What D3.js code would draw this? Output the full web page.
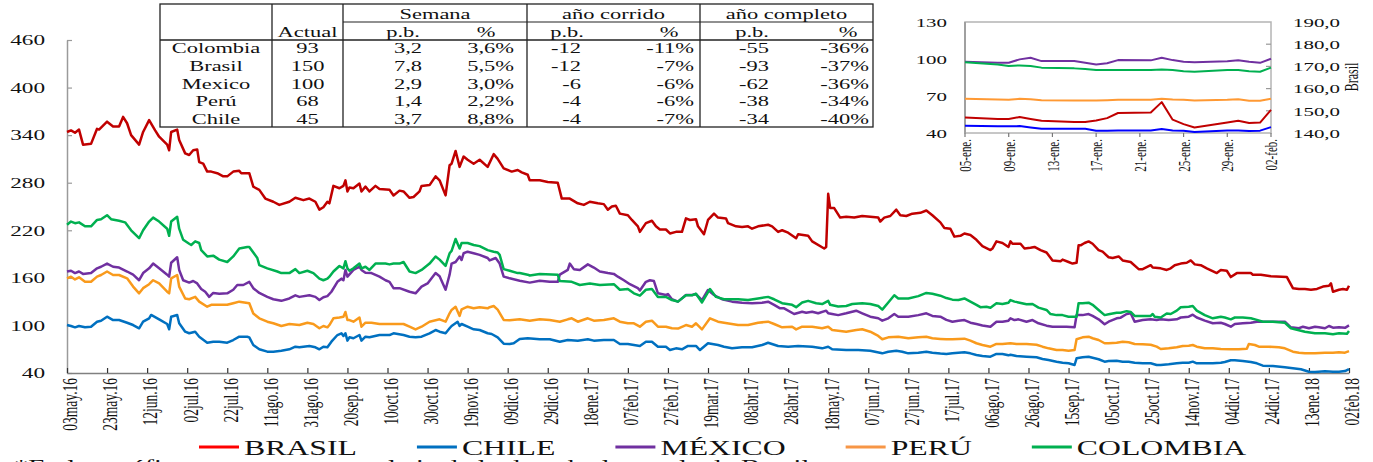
<!DOCTYPE html>
<html><head><meta charset="utf-8">
<script src="https://cdn.jsdelivr.net/npm/d3@7"></script>
<style>
html,body{margin:0;padding:0;background:#fff;overflow:hidden}
svg{display:block;font-family:"Liberation Serif","Times New Roman",serif}
</style></head><body>
<svg id="chart" width="1373" height="462"></svg>
<script>
// ---------------- DATA ----------------
const START = [2016, 4, 3]; // day 0 = 03 may 2016
const xTickLabels = ["03may.16","23may.16","12jun.16","02jul.16","22jul.16","11ago.16","31ago.16","20sep.16","10oct.16","30oct.16","19nov.16","09dic.16","29dic.16","18ene.17","07feb.17","27feb.17","19mar.17","08abr.17","28abr.17","18may.17","07jun.17","27jun.17","17jul.17","06ago.17","26ago.17","15sep.17","05oct.17","25oct.17","14nov.17","04dic.17","24dic.17","13ene.18","02feb.18"];
const yTicks = [40,100,160,220,280,340,400,460];
const seriesNames = ["BRASIL","CHILE","MÉXICO","PERÚ","COLOMBIA"];

// [days since 03may.16, value]
const brasil = [[0,344],[2,346],[4,343],[6,347],[8,328],[12,329],[15,348],[16,347],[20,357],[23,351],[26,351],[28,363],[30,355],[32,340],[36,328],[38,344],[41,359],[44,346],[46,338],[50,328],[51,321],[52,344],[55,347],[56,334],[59,317],[61,315],[63,321],[65,322],[66,306],[68,304],[70,294],[72,294],[75,292],[78,288],[80,288],[83,294],[86,295],[87,292],[91,292],[93,275],[96,271],[99,260],[103,256],[106,252],[111,256],[114,261],[118,258],[121,260],[124,256],[126,246],[128,249],[130,256],[131,254],[133,276],[136,273],[138,276],[139,283],[140,269],[141,274],[143,273],[146,279],[147,269],[149,275],[151,269],[154,276],[156,272],[161,271],[163,264],[166,270],[168,269],[171,261],[173,262],[176,269],[177,276],[181,277],[184,288],[186,283],[189,264],[191,302],[192,304],[194,320],[196,300],[198,313],[200,309],[203,304],[206,309],[210,300],[213,316],[215,310],[218,298],[222,294],[225,296],[227,293],[230,290],[231,283],[236,283],[240,281],[245,280],[247,260],[251,260],[255,254],[258,252],[261,256],[265,254],[268,253],[270,246],[272,250],[274,251],[276,241],[280,239],[282,233],[285,225],[286,218],[289,229],[292,232],[294,225],[296,221],[299,221],[301,216],[304,218],[307,218],[309,235],[311,233],[314,234],[315,225],[318,215],[320,233],[323,241],[325,236],[329,235],[330,229],[334,225],[337,224],[340,225],[342,222],[345,225],[350,227],[352,225],[355,218],[357,220],[360,217],[364,210],[365,215],[370,213],[372,206],[378,197],[379,199],[380,266],[381,248],[383,248],[386,236],[389,237],[393,236],[397,238],[401,237],[405,236],[406,231],[408,236],[411,238],[414,246],[416,239],[419,238],[422,241],[426,242],[429,245],[432,239],[436,230],[438,223],[441,222],[443,212],[446,213],[448,216],[451,214],[454,208],[457,200],[461,195],[462,197],[464,206],[467,204],[470,199],[471,206],[472,203],[476,203],[478,197],[481,198],[483,199],[486,195],[489,192],[492,182],[496,181],[497,183],[500,180],[502,178],[504,179],[505,201],[506,201],[508,204],[510,206],[512,203],[515,195],[517,193],[520,186],[522,185],[525,187],[527,182],[531,180],[535,171],[537,171],[541,176],[542,173],[546,172],[549,170],[551,172],[553,176],[556,178],[559,179],[561,182],[563,177],[566,176],[569,172],[574,166],[576,170],[579,169],[581,161],[584,166],[587,166],[591,166],[592,164],[596,164],[601,162],[609,161],[612,147],[615,146],[618,146],[621,145],[624,146],[627,149],[630,150],[631,153],[632,142.5],[635,145],[637,146],[639,145],[640,150]];
const chile = [[0,100.5],[2,99.3],[4,97.6],[6,99.3],[9,97.6],[12,98.4],[15,104.7],[17,106],[20,111],[23,106.8],[26,106.8],[30,103.4],[33,100.5],[36,96.4],[38,104.7],[41,109],[42,113.2],[46,107.7],[50,101.8],[51,95.1],[52,111],[55,113.2],[56,102.7],[59,92.1],[61,90.1],[64,92.1],[66,85.8],[70,78.2],[73,79.5],[76,79.5],[80,78.2],[83,81.6],[86,85.8],[90,85.8],[91,85],[93,75.3],[96,69.9],[100,66.9],[103,66.9],[107,68.1],[111,69.9],[114,73.2],[116,72.4],[121,74.1],[124,72.4],[126,69.9],[128,73.2],[130,72.4],[132,79.5],[135,87.9],[137,90.1],[138,86.7],[139,90.1],[140,80.8],[141,85],[143,83.8],[146,87.9],[147,80.8],[149,85.8],[151,85],[156,87.9],[161,87.9],[163,90.1],[168,87.9],[171,85.8],[174,85],[177,85.8],[181,90.1],[184,94.2],[186,92.1],[189,90.1],[191,96.4],[192,99.3],[195,104.7],[196,99.3],[197,101.8],[200,98.4],[203,95.1],[206,94.2],[210,90.1],[212,89.2],[215,85],[218,77],[221,76.6],[223,77.5],[226,83],[230,83.8],[236,82.5],[241,82.5],[246,79.5],[250,81.6],[255,80.8],[260,82.5],[263,80.8],[268,81.6],[273,81.6],[276,76.6],[280,76.6],[283,75.3],[286,74.1],[289,79.5],[292,79.5],[295,73.2],[299,73.2],[301,69],[304,71.1],[307,69.9],[310,74.1],[314,74.1],[316,69],[320,77.5],[325,75.3],[328,73.2],[332,71.1],[337,72.4],[342,72.4],[347,75.3],[350,78.2],[355,74.1],[360,73.2],[365,74.1],[372,73.2],[377,71.1],[380,73.2],[382,69.9],[389,69],[395,69],[401,68.1],[407,64.8],[410,66.9],[414,68.1],[417,66.9],[420,64.8],[425,65.6],[429,66.9],[432,65.6],[436,64.5],[439,64],[442,64.8],[445,65.6],[448,66.1],[451,64.8],[454,62.7],[457,61.4],[461,60.6],[464,64],[467,64],[470,62.3],[471,63.1],[474,61.4],[479,60.6],[484,59.8],[487,57.7],[490,56.4],[494,54.3],[497,53],[500,52.2],[503,50.1],[504,58.5],[507,59.8],[510,60.6],[512,59.3],[515,57.3],[518,54.3],[520,55.1],[524,55.5],[527,54.3],[530,54.3],[533,53],[537,52.2],[541,52.2],[544,50.1],[546,50.1],[550,51],[554,52.2],[557,53],[560,53],[562,54.3],[564,52.2],[568,52.2],[572,52.2],[576,53],[578,53.9],[581,56],[583,56],[587,55.1],[591,53.9],[594,52.2],[597,49.2],[602,48.8],[608,47.2],[612,45.9],[616,44.7],[620,41.6],[623,41.3],[628,42.1],[632,41.6],[635,41.6],[638,42.5],[640,45]];
const mexico = [[0,168],[2,169],[4,166],[6,168],[8,165],[12,166],[15,172],[17,174],[20,178],[23,174],[26,173],[30,168],[33,164],[36,157],[38,166],[41,172],[43,178],[46,172],[50,164],[51,161.5],[52,179],[55,186],[56,170],[58,157],[61,154],[63,156],[65,153],[67,146],[69,142.5],[71,136],[73,141],[76,140],[80,140.5],[83,145],[85,151],[88,151],[91,155],[93,147],[96,141],[100,136],[103,133],[107,131],[111,134],[114,138],[116,136],[121,138],[124,136],[126,132],[128,135.5],[130,137],[132,142.5],[135,155],[137,159],[138,157],[139,170],[140,161.5],[143,170],[146,174],[147,170],[149,166.5],[152,166],[156,161.5],[159,157],[161,155],[163,147],[166,147],[171,142.5],[174,140.5],[177,149],[180,153],[184,166],[186,162],[189,145],[191,164],[192,178],[194,180],[196,187],[197,182.5],[198,191],[200,193],[203,191],[206,189],[210,185],[211,182],[214,185],[216,178],[218,161.5],[221,159.4],[226,156.4],[231,154],[236,156.4],[241,155],[245,155],[246,164],[250,170],[251,178],[253,171],[256,170],[260,177],[263,173],[266,168],[270,166],[273,165],[275,161.5],[278,157],[281,152],[285,147],[286,144],[289,155],[291,157],[293,156],[295,140.5],[299,138.4],[300,139.6],[302,133],[305,130],[309,138.4],[312,138.4],[314,139.6],[317,132],[320,144.7],[323,138.4],[327,133],[332,130],[337,128.7],[342,128],[347,128.7],[350,130],[353,126],[356,121.6],[358,121.6],[363,114.4],[367,117.3],[369,116],[372,117.3],[375,115.3],[379,118.6],[380,115.3],[382,114.4],[385,113],[389,115.3],[394,118.6],[397,115.3],[401,111],[405,109],[407,106],[410,109],[413,114.4],[415,111],[420,111],[425,113],[429,115.3],[432,112],[436,111],[439,107],[442,104.7],[445,106],[448,106.8],[451,103.4],[454,101.8],[457,100],[461,98.4],[464,104.7],[467,104.7],[470,106],[471,109],[473,106.8],[475,107.7],[479,104.7],[482,106.8],[485,102.7],[489,99.7],[492,98.4],[499,98.4],[503,97.6],[504,113],[507,113],[510,114.4],[512,112],[515,107.7],[518,101.4],[520,104.7],[524,109],[526,109.8],[529,114.4],[531,115.3],[533,104.7],[537,106.8],[541,107.7],[544,106.8],[546,107.7],[550,106.8],[554,107.7],[556,110],[560,111],[562,113.6],[564,110],[568,106],[572,102.7],[576,103.4],[578,101.8],[581,98.4],[583,101.8],[587,102.7],[591,103.4],[594,104.7],[602,104.7],[608,104.7],[611,97.6],[615,96.4],[617,98.4],[620,96.4],[623,98.4],[625,97.6],[628,96.4],[630,99.3],[632,97.1],[635,97.6],[638,97],[640,100]];
const peru = [[0,159.4],[2,161.5],[4,158],[6,160.7],[9,155],[12,155],[15,161.5],[17,163.6],[20,168],[23,163.6],[26,163.6],[30,159.4],[33,149],[36,140.5],[38,147],[41,152],[43,157],[46,153],[50,142.5],[51,140.5],[52,159.4],[55,163.6],[56,149],[59,134],[61,133],[64,136],[66,130],[70,123.6],[72,126],[76,126],[80,126],[83,128],[86,130],[91,128],[93,115],[96,109],[100,104.7],[103,102.7],[107,99.3],[111,101.8],[116,100.5],[120,103.4],[123,101.8],[126,96.4],[128,99.3],[130,97.6],[131,100.5],[133,109],[136,110],[138,111],[139,117],[140,106.8],[141,106.8],[143,104.7],[146,110],[147,98.4],[149,103.4],[152,103.4],[156,101.8],[163,101.8],[168,101.8],[171,98.4],[174,95],[177,98.4],[181,104.7],[186,107.7],[189,104.7],[191,115.3],[192,119.5],[194,123.6],[196,112],[197,120.3],[200,123.6],[203,121.6],[206,123],[210,121.6],[211,123],[213,124.5],[215,120],[218,107],[221,106.5],[226,107.7],[231,106],[236,107.7],[241,106.8],[246,104.7],[250,107.7],[252,109],[255,104.7],[260,109],[263,106],[268,106.8],[273,109],[276,104.7],[280,102.7],[283,102.7],[286,98.4],[289,104.7],[292,106],[295,98.4],[299,98.4],[302,96.4],[305,96],[309,100.5],[312,98.4],[314,102.7],[317,95],[321,109],[325,104.7],[328,103.4],[335,100.5],[340,100.5],[345,103.4],[350,104.7],[353,101.8],[357,97.6],[362,98.4],[364,95],[367,98.4],[372,98.4],[377,96.4],[380,98.4],[382,94.2],[389,92.1],[394,94.2],[397,95.1],[401,92.1],[405,86.7],[407,82.5],[410,85],[415,85.8],[420,83.8],[425,85],[429,85.8],[432,83.8],[436,83],[439,82.5],[442,82.5],[445,82.9],[448,83.3],[451,80.8],[454,77.5],[457,75.3],[461,73.2],[464,76.6],[467,76.6],[471,77.5],[474,76.6],[479,76.6],[484,75.7],[487,73.2],[490,71.1],[494,69],[497,69],[500,68.1],[503,69],[504,82.5],[507,85],[510,85.8],[512,83.8],[515,81.6],[518,77.5],[520,77.5],[524,78.2],[527,79.5],[530,78.7],[533,76.6],[537,76.2],[541,75.7],[544,73.2],[546,70.3],[550,71.1],[554,72.4],[557,74.1],[560,74.5],[562,75.3],[564,73.2],[568,71.1],[572,71.1],[576,70.3],[581,69.9],[585,69.9],[589,70.6],[590,76.6],[593,75.3],[595,73.2],[600,73.2],[605,72.4],[608,71.1],[612,66.9],[615,65.6],[618,64.8],[623,64.8],[628,65.6],[632,65.6],[635,66.1],[638,65.6],[640,67.5]];
const colombia = [[0,227],[2,231],[4,229],[6,230],[9,225],[12,225],[15,233],[17,234],[20,239],[22,234],[26,232],[29,230],[32,220],[36,210],[38,220],[41,231],[43,236],[46,231],[50,222],[51,213],[52,231],[55,237],[56,222],[58,208],[61,203],[62,201.5],[64,206],[66,204],[67,195],[70,187],[73,188],[76,183],[80,180],[83,187],[86,197],[90,199],[91,199],[95,185],[96,176],[100,172],[105,168],[107,166],[111,166],[114,171],[116,166],[120,169],[123,166],[126,159],[128,157],[130,159],[131,161.5],[133,168],[136,175],[138,172],[139,181],[140,172],[141,169],[143,172],[146,178],[147,172],[149,174],[151,170],[154,178],[159,178],[161,177],[163,178],[166,178],[168,180],[171,168],[174,166],[177,170],[181,178],[184,187],[186,183],[189,175],[191,191],[192,194],[194,209],[196,197],[197,204],[200,204],[203,201.5],[206,200],[210,195],[213,193],[215,192],[216,189],[218,171],[221,169],[225,166],[226,166],[230,164],[231,163],[236,165],[245,164],[246,156],[252,155],[256,151],[261,153],[266,151],[273,152],[276,145],[280,146],[283,140.5],[286,137.5],[289,145],[292,146],[295,136],[299,136],[302,132],[305,130],[309,138],[312,138],[314,140],[317,129],[321,146],[324,136],[328,133],[335,133],[340,132],[345,134],[350,136],[353,133],[357,128],[362,126],[364,123],[367,129],[370,131],[374,128],[377,127],[380,131],[381,126],[385,124],[389,124.5],[392,127],[397,128],[401,127],[405,124.5],[407,120],[410,129],[413,138],[415,134],[420,134],[425,137],[429,141],[432,140],[436,137.5],[439,134.5],[442,132.5],[445,132],[448,134],[451,130],[454,126],[456,123],[459,123.6],[461,122.4],[464,128],[467,127],[470,128.7],[471,132],[473,130],[475,129],[479,126.6],[482,127],[485,122.4],[489,119.5],[491,114.4],[494,113],[497,113],[500,111],[504,111],[505,128],[507,128],[510,128.7],[512,126],[515,119.5],[518,113],[520,114],[524,116],[526,116],[529,118],[531,117],[533,112],[537,112],[541,112],[542,114.4],[543,111],[546,110],[549,115],[551,114.4],[554,118.6],[556,123],[560,123.6],[562,124.5],[564,118.6],[568,113],[572,109],[576,111],[578,110],[581,107.7],[583,110],[587,110],[591,109],[594,107],[597,104.7],[602,104.7],[608,103.4],[611,96.4],[615,94],[618,92],[623,90],[628,90],[632,89],[635,90],[639,89.5],[640,93]];

// table
const tableCountries = ["Colombia","Brasil","Mexico","Perú","Chile"];
const tableActual = [93,150,100,68,45];
const semanaPb = ["3,2","7,8","2,9","1,4","3,7"];
const semanaPct = ["3,6%","5,5%","3,0%","2,2%","8,8%"];
const corridoPb = ["-12","-12","-6","-4","-4"];
const corridoPct = ["-11%","-7%","-6%","-6%","-7%"];
const completoPb = ["-55","-93","-62","-38","-34"];
const completoPct = ["-36%","-37%","-36%","-34%","-40%"];
const groupHeaders = ["Semana","año corrido","año completo"];
const subHeaders = ["p.b.","%"];

// inset (last four weeks)
const insetDates = ["2018-01-05","2018-01-08","2018-01-09","2018-01-10","2018-01-11","2018-01-12","2018-01-15","2018-01-16","2018-01-17","2018-01-18","2018-01-19","2018-01-22","2018-01-23","2018-01-24","2018-01-25","2018-01-26","2018-01-29","2018-01-30","2018-01-31","2018-02-01","2018-02-02"];
const insetBrasil = [147,146.3,146.3,147.2,146.3,145.5,144.9,145,145.6,146.7,149,149.2,153.9,146,144,142.5,144.7,145.5,144.5,144.7,150.4];
const insetChile = [45.9,45.4,45.4,45.6,44.5,43.5,43.5,43.5,41.9,41.9,42.1,42.1,43.2,42.1,41.9,40.8,42.1,42.1,41.6,41.9,44.8];
const insetMexico = [97.7,96.9,96.9,99.7,101,98.3,98.3,97,95.6,96.5,99.1,98.9,101,99.1,97.7,97.3,98.1,98.9,97.7,96.9,100.2];
const insetPeru = [67.7,67.2,66.9,67.7,67.4,66.5,66.3,66.3,66.3,66.6,66.9,66.9,67.7,67.2,66.9,66.3,66.9,67.4,66.1,66.1,67.7];
const insetColombia = [97.3,95.5,94.3,94.8,94.3,93,92.4,91.8,91,91,91,91,91.4,91,90,89.7,91,91,90,89.7,93];
const insetXTickLabels = ["05-ene.","09-ene.","13-ene.","17-ene.","21-ene.","25-ene.","29-ene.","02-feb."];
const insetLeftTicks = [40,70,100,130];
const insetRightTicks = [140,150,160,170,180,190];
const footnote = "*En los gráficos se presenta en el eje de la derecha la escala de Brasil";

// ---------------- STYLE ----------------
const lineColors = {BRASIL:"#c00000",CHILE:"#0070c0","MÉXICO":"#7030a0","PERÚ":"#f99a1c",COLOMBIA:"#00b050"};
const legendColors = {BRASIL:"#ff0000",CHILE:"#0070c0","MÉXICO":"#7030a0","PERÚ":"#f79646",COLOMBIA:"#00b050"};
const insetColors = {BRASIL:"#c00000",CHILE:"#0000ff","MÉXICO":"#7030a0","PERÚ":"#ff9933",COLOMBIA:"#00b050"};
const SX = 1.55; // horizontal stretch of the original picture's text

// ---------------- DRAW ----------------
const svg = d3.select("#chart");
const DAY = 864e5;
const day0 = Date.UTC(START[0], START[1], START[2]);
const toDate = d => new Date(day0 + d * DAY);
const monthIdx = {ene:0,feb:1,mar:2,abr:3,may:4,jun:5,jul:6,ago:7,sep:8,oct:9,nov:10,dic:11};
const parseLbl = s => { const m = s.match(/^(\d\d)([a-z]+)\.(\d\d)$/); return new Date(Date.UTC(2000 + +m[3], monthIdx[m[2]], +m[1])); };
const parseInsetLbl = s => { const m = s.match(/^(\d\d)-([a-z]+)\.$/); return new Date(Date.UTC(2018, monthIdx[m[2]], +m[1])); };
const parseISO = s => { const p = s.split("-"); return new Date(Date.UTC(+p[0], +p[1]-1, +p[2])); };

function stext(g, x, y, str, opts = {}) {
  const rot = opts.rotate ? ` rotate(${opts.rotate})` : "";
  return g.append("text")
    .attr("transform", `translate(${x},${y}) scale(${opts.sx || SX},1)${rot}`)
    .attr("text-anchor", opts.anchor || "start")
    .attr("dy", opts.dy || null)
    .attr("font-size", opts.size || 15)
    .attr("fill", opts.fill || "#111")
    .text(str);
}

const x = d3.scaleUtc().domain([parseLbl(xTickLabels[0]), parseLbl(xTickLabels[xTickLabels.length-1])]).range([67, 1349]);
const y = d3.scaleLinear().domain([40, 460]).range([373, 40]);

// axes
const gy = svg.append("g").attr("transform","translate(67,0)")
  .call(d3.axisLeft(y).tickValues(yTicks).tickSizeInner(-5).tickSizeOuter(0).tickFormat(""));
gy.select(".domain").attr("stroke","#9a9a9a").attr("stroke-width",1.5);
gy.selectAll(".tick line").attr("stroke","#9a9a9a").attr("stroke-width",1.2);

const gx = svg.append("g").attr("transform","translate(0,373)")
  .call(d3.axisBottom(x).tickValues(xTickLabels.map(parseLbl)).tickSizeInner(-5).tickSizeOuter(0).tickFormat(""));
gx.select(".domain").attr("stroke","#808080").attr("stroke-width",1.5);
gx.selectAll(".tick line").attr("stroke","#333").attr("stroke-width",1.2);

const yl = svg.append("g");
yTicks.forEach(v => stext(yl, 45, y(v), v, {anchor:"end", dy:"0.35em", size:15}));
const xl = svg.append("g");
xTickLabels.forEach(s => stext(xl, x(parseLbl(s)) + 3, 378, s, {anchor:"end", dy:"0.35em", size:13.5, rotate:-90}));

// lines
const seriesData = {BRASIL:brasil, CHILE:chile, "MÉXICO":mexico, "PERÚ":peru, COLOMBIA:colombia};
const line = d3.line().x(p => x(toDate(p[0]))).y(p => y(p[1]));
["BRASIL","CHILE","PERÚ","MÉXICO","COLOMBIA"].forEach(n => {
  svg.append("path").datum(seriesData[n]).attr("d", line)
    .attr("fill","none").attr("stroke", lineColors[n]).attr("stroke-width",2.5)
    .attr("stroke-linejoin","round");
});

// footnote (cut off by the bottom edge, as in the original)
stext(svg, 14, 472.5, footnote, {size:18.5});

// legend
const lg = svg.append("g");
let lx = 199;
seriesNames.forEach(n => {
  lg.append("line").attr("x1",lx).attr("x2",lx+40).attr("y1",447).attr("y2",447)
    .attr("stroke",legendColors[n]).attr("stroke-width",3);
  const t = stext(lg, lx+45, 454.5, n, {size:20.5});
  lx += 45 + t.node().getComputedTextLength()*SX + 60;
});

// table
const tb = svg.append("g");
const T = {l:160, r:873, t:4, b:127, h1:22, h2:40};
const colX = [160,272,343,527,700,873];
tb.append("rect").attr("x",T.l).attr("y",T.t).attr("width",T.r-T.l).attr("height",T.b-T.t)
  .attr("fill","#fff").attr("stroke","#222").attr("stroke-width",1.3);
colX.slice(1,-1).forEach(cx => tb.append("line").attr("x1",cx).attr("x2",cx).attr("y1",T.t).attr("y2",T.b).attr("stroke","#222").attr("stroke-width",1.3));
tb.append("line").attr("x1",343).attr("x2",T.r).attr("y1",T.h1).attr("y2",T.h1).attr("stroke","#222").attr("stroke-width",1.1);
tb.append("line").attr("x1",T.l).attr("x2",T.r).attr("y1",T.h2).attr("y2",T.h2).attr("stroke","#222").attr("stroke-width",1.3);
groupHeaders.forEach((h,i) => stext(tb, (colX[i+2]+colX[i+3])/2, 18.5, h, {anchor:"middle", size:14.5}));
stext(tb, 307.5, 36.5, "Actual", {anchor:"middle", size:14.5});
const subX = [[403,486],[567,669],[752,848]];
subX.forEach(p => { stext(tb, p[0], 36.5, subHeaders[0], {anchor:"middle", size:14.5}); stext(tb, p[1], 36.5, subHeaders[1], {anchor:"middle", size:14.5}); });
const rowY = i => 53 + i*17.8;
const cols = [[tableActual,307.5,"middle"],[semanaPb,422,"end"],[semanaPct,514,"end"],[corridoPb,581,"end"],[corridoPct,694,"end"],[completoPb,769,"end"],[completoPct,869,"end"]];
tableCountries.forEach((c,i) => {
  stext(tb, 216, rowY(i), c, {anchor:"middle", size:14.5});
  cols.forEach(cd => stext(tb, cd[1], rowY(i), cd[0][i], {anchor:cd[2], size:14.5}));
});

// inset
const ig = svg.append("g");
const ix = d3.scaleUtc().domain([parseInsetLbl(insetXTickLabels[0]), parseInsetLbl(insetXTickLabels[insetXTickLabels.length-1])]).range([965, 1271]);
const iyL = d3.scaleLinear().domain([40,130]).range([133,22]);
const iyR = d3.scaleLinear().domain([140,190]).range([133,22]);
ig.append("rect").attr("x",965).attr("y",22).attr("width",306).attr("height",111)
  .attr("fill","#fff").attr("stroke","#b4b4b4").attr("stroke-width",1.5);
ig.append("line").attr("x1",965).attr("x2",965).attr("y1",22).attr("y2",133).attr("stroke","#a0a0a0").attr("stroke-width",2);
insetRightTicks.slice(1,-1).forEach(v => ig.append("line").attr("x1",1266).attr("x2",1271).attr("y1",iyR(v)).attr("y2",iyR(v)).attr("stroke","#999").attr("stroke-width",1.2));
insetXTickLabels.forEach(s => {
  const px = ix(parseInsetLbl(s));
  ig.append("line").attr("x1",px).attr("x2",px).attr("y1",133).attr("y2",137).attr("stroke","#777").attr("stroke-width",1.2);
  stext(ig, px, 139, s, {anchor:"end", dy:"0.35em", size:11, rotate:-90, sx:1.6});
});
insetLeftTicks.forEach(v => stext(ig, 947, iyL(v), v, {anchor:"end", dy:"0.35em", size:13.5}));
insetRightTicks.forEach(v => stext(ig, 1293, iyR(v), d3.format(".1f")(v).replace(".",","), {dy:"0.35em", size:13.5}));
stext(ig, 1352, 77, "Brasil", {anchor:"middle", dy:"0.35em", size:12, rotate:-90, sx:1.5});
const idates = insetDates.map(parseISO);
const insetSeries = [["BRASIL",insetBrasil,iyR],["MÉXICO",insetMexico,iyL],["COLOMBIA",insetColombia,iyL],["PERÚ",insetPeru,iyL],["CHILE",insetChile,iyL]];
insetSeries.forEach(([n, vals, sc]) => {
  const l = d3.line().x((v,i) => ix(idates[i])).y(v => sc(v));
  ig.append("path").datum(vals).attr("d", l).attr("fill","none")
    .attr("stroke", insetColors[n]).attr("stroke-width",2).attr("stroke-linejoin","round");
});
</script>
</body></html>
